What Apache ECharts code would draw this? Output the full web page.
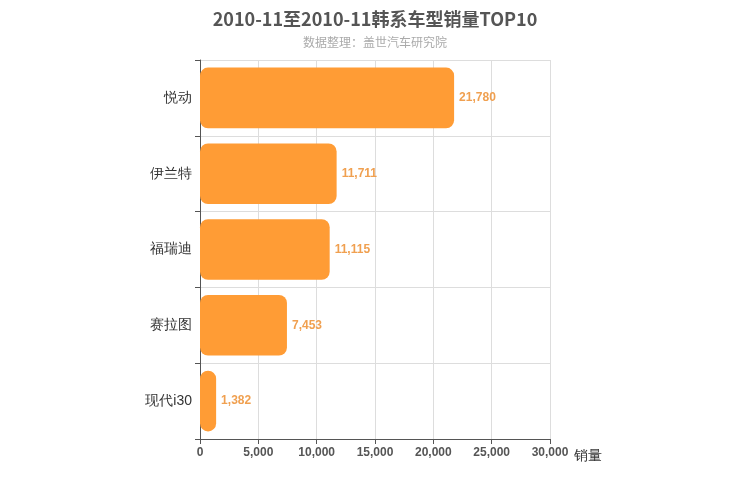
<!DOCTYPE html>
<html><head><meta charset="utf-8">
<script src="https://cdn.jsdelivr.net/npm/echarts@6/dist/echarts.min.js"></script>
</head><body style="margin:0">
<div id="main" style="width:750px;height:500px"></div>
<script>
var models = ['现代i30', '赛拉图', '福瑞迪', '伊兰特', '悦动'];
var sales = [1382, 7453, 11115, 11711, 21780];

var myChart = echarts.init(document.getElementById('main'));
var option = {
    title: {
        left: 'center',
        top: 5,
        text: '2010-11至2010-11韩系车型销量TOP10',
        subtext: '数据整理：盖世汽车研究院',
        itemGap: 8,
        textStyle: { fontSize: 18, fontWeight: 'bold', color: '#555', fontFamily: 'Noto Sans CJK SC' },
        subtextStyle: { fontSize: 12, color: '#aaa', fontFamily: 'Noto Sans CJK SC' }
    },
    grid: { left: 200, right: 200, top: 60, bottom: 61 },
    xAxis: {
        type: 'value',
        min: 0, max: 30000, interval: 5000,
        name: '销量',
        nameGap: 15,
        nameTextStyle: { fontSize: 14, color: '#333', verticalAlign: 'top', padding: [10, 0, 0, 0] },
        axisLine: { show: true, lineStyle: { color: '#555' } },
        axisTick: { show: true },
        axisLabel: { color: '#555', fontWeight: 'bold', fontSize: 12 },
        splitLine: { lineStyle: { color: '#ddd' } }
    },
    yAxis: {
        type: 'category',
        data: models,
        axisLine: { lineStyle: { color: '#555' } },
        axisTick: { show: true, length: 5 },
        axisLabel: { color: '#333', fontSize: 14 },
        splitLine: { show: true, lineStyle: { color: '#ddd' } }
    },
    series: [{
        type: 'bar',
        data: sales,
        barWidth: '80%',
        itemStyle: { color: '#ff9c35', borderRadius: 8 },
        label: {
            show: true, position: 'right',
            color: '#f0a050', fontWeight: 'bold', fontSize: 12,
            formatter: function (p) { return p.value.toLocaleString('en-US'); }
        }
    }]
};
myChart.setOption(option);
</script>
</body></html>
